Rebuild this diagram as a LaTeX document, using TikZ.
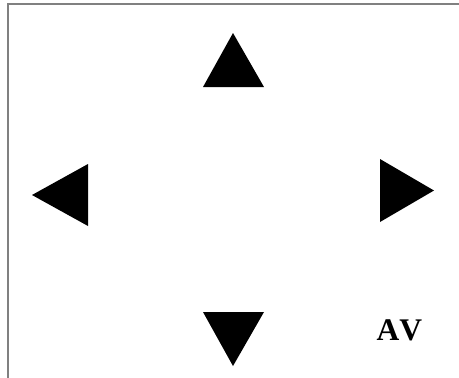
\documentclass[tikz,border=0pt]{standalone}
\usepackage{fontspec}
\setmainfont{Liberation Serif}
\newfontfamily\avfont[Kerning=Off]{Liberation Serif}
\usepackage{xcolor}
\usepackage{tikz}
\usetikzlibrary{positioning}
\definecolor{framex}{HTML}{808080}
\tikzset{
  frame/.style={framex,line width=2pt},
  tri/.style={fill=black},
  lbl/.style={font=\avfont\bfseries\fontsize{31.5}{36}\selectfont,inner sep=0pt,anchor=base west}
}
\begin{document}
\begin{tikzpicture}[x=1pt,y=-1pt]
\useasboundingbox (0,0) rectangle (459,378);
\draw[frame] (8,378)--(8,4)--(459,4);
% arrows
\fill[tri] (233,33)--(264,87)--(203,87)--cycle;
\fill[tri] (32,195)--(88,164)--(88,226)--cycle;
\fill[tri] (434,190.5)--(380,159)--(380,222)--cycle;
\fill[tri] (233,366)--(264,312)--(203,312)--cycle;
\node[lbl] (av) at (376.5,340) {AV};
\end{tikzpicture}
\end{document}
